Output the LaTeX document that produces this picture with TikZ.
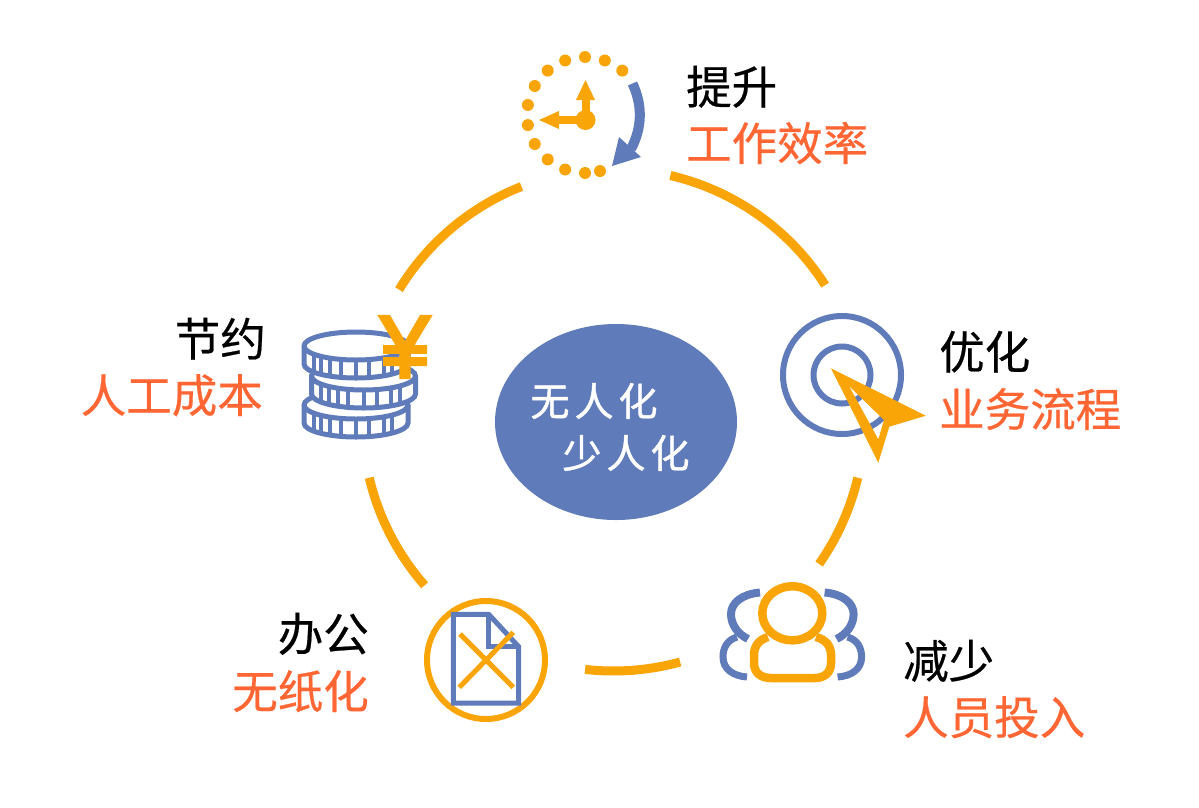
\documentclass[tikz,border=0pt]{standalone}
\usepackage{fontspec}
\setmainfont{Noto Sans CJK SC}[FakeBold=0.5]
\newfontfamily\hubfont{Noto Sans CJK SC}[FakeBold=1.2]
\newfontfamily\yenfont{Liberation Sans}[FakeBold=4]
\usetikzlibrary{positioning,shapes.geometric}
\definecolor{ringorange}{HTML}{FAA507}
\definecolor{iconblue}{HTML}{5F7BBA}
\definecolor{subred}{HTML}{FF6633}
\tikzset{
headline/.style={
  inner sep=0pt,
  text height=38pt,
  text depth=6pt,
  font=\fontsize{45.5}{45.5}\selectfont},
subline/.style={
  headline,
  text=subred},
hubtext/.style={
  inner sep=0pt,
  text=white,
  font=\hubfont\fontsize{39}{39}\selectfont},
ring/.style={draw=ringorange, line width=9pt},
blueline/.style={draw=iconblue, line width=6pt},
orangeline/.style={draw=ringorange, line width=6pt}
}
\begin{document}
\begin{tikzpicture}[x=1pt,y=1pt]
    \useasboundingbox (0,0) rectangle (1199,-807);
    \coordinate (ringc) at (613.5,-420);
    \foreach \a/\b in {76.9/32.5, -13.3/-35, -74.6/-96.5, 221.2/193.3, 148.7/111.5}
      \draw [ring] (ringc) ++(\a:251) arc [start angle=\a, end angle=\b, radius=251];
    \node [ellipse, fill=iconblue, minimum width=242, minimum height=196, inner sep=0pt] (hub) at (616,-422) {};
    \node [hubtext] (hub1) at (594,-401) {无\hspace{5pt}人\hspace{5pt}化};
    \node [hubtext] (hub2) at (626,-453) {少\hspace{5pt}人\hspace{5pt}化};
    % labels
    \node [headline, anchor=west] (lift) at (686,-88) {提升};
    \node [subline, below=12pt of lift.south west, anchor=north west] (lift2) {工作效率};
    \node [headline, anchor=west] (optim) at (939,-353) {优化};
    \node [subline, below=13pt of optim.south west, anchor=north west] (optim2) {业务流程};
    \node [headline, anchor=west] (reduce) at (903,-662) {减少};
    \node [subline, below=12pt of reduce.south west, anchor=north west] (reduce2) {人员投入};
    \node [headline, anchor=east] (office) at (369,-635) {办公};
    \node [subline, below=13pt of office.south east, anchor=north east] (office2) {无纸化};
    \node [headline, anchor=east] (save) at (266,-340) {节约};
    \node [subline, below=12pt of save.south east, anchor=north east, xshift=-3pt] (save2) {人工成本};
    % clock
    \foreach \t in {90,70,50,110,130,150,170,190,210,230,250,270,285}
      \fill [ringorange] (585,-115) ++(\t:58) circle (6);
    \fill [ringorange] (585.5,-120) circle (10);
    \fill [ringorange] (581.5,-120) rectangle (589.5,-100);
    \fill [ringorange] (576,-100) -- (585.5,-80) -- (595,-100) -- cycle;
    \fill [ringorange] (585,-116) rectangle (559,-124);
    \fill [ringorange] (559,-111) -- (539,-120) -- (559,-129) -- cycle;
    \draw [iconblue, line width=10pt] (632.5,-83.5) .. controls (642,-104) and (643,-126) .. (631,-149);
    \fill [iconblue] (619,-137) -- (641,-157) -- (612,-166) -- cycle;
    % target
    \draw [blueline] (842,-375) circle (59);
    \draw [blueline] (842,-375) circle (28.5);
    \fill [ringorange, even odd rule] (831,-368.3) -- (925.7,-415.7) -- (889.3,-426.7) -- (878.3,-462.7) -- cycle
      (849,-386) -- (884,-420) -- (878.3,-439.3) -- cycle;
    % people
    \draw [iconblue, line width=8pt] (760,-592.5) .. controls (742,-594) and (731,-603) .. (731,-614) .. controls (731,-625) and (738,-634) .. (748,-639);
    \draw [iconblue, line width=7pt] (737,-637) .. controls (727,-640) and (723,-648) .. (723,-657) .. controls (723,-669) and (733,-676) .. (747,-677);
    \draw [iconblue, line width=8pt] (824.6,-592.5) .. controls (842.6,-594) and (853.6,-603) .. (853.6,-614) .. controls (853.6,-625) and (846.6,-634) .. (836.6,-639);
    \draw [iconblue, line width=7pt] (847.6,-637) .. controls (857.6,-640) and (861.6,-648) .. (861.6,-657) .. controls (861.6,-669) and (851.6,-676) .. (837.6,-677);
    \draw [ringorange, line width=8.5pt] (792.3,-613.3) ellipse [x radius=30, y radius=27];
    \draw [ringorange, line width=8.5pt] (768,-637) .. controls (758,-640) and (754,-647) .. (754,-655) -- (754,-663) .. controls (754,-672) and (760,-678) .. (771,-678) -- (815,-678) .. controls (825,-678) and (831,-672) .. (831,-663) -- (831,-655) .. controls (831,-647) and (827,-640) .. (816,-637);
    % paper
    \draw [orangeline] (486,-660) circle (59);
    \draw [iconblue, line width=5pt] (488.7,-614.3) -- (453.3,-614.3) -- (453.3,-703) -- (518.7,-703) -- (518.7,-646.7) -- cycle;
    \draw [iconblue, line width=5pt] (488.7,-614.3) -- (488.7,-646.7) -- (518.7,-646.7);
    \draw [ringorange, line width=5pt] (460,-634) -- (513.3,-687.3) (459.3,-687.3) -- (513.3,-632.3);
    % coins
    \foreach \cx/\cy in {356/-405, 363.5/-376, 356/-346} {
      \filldraw [fill=white, draw=iconblue, line width=5pt] (\cx-52,\cy) -- (\cx-52,\cy-18) arc [start angle=180, end angle=360, x radius=52, y radius=14] -- (\cx+52,\cy) arc [start angle=0, end angle=180, x radius=52, y radius=14] -- cycle;
      \draw [iconblue, line width=5pt] (\cx-52,\cy) arc [start angle=180, end angle=360, x radius=52, y radius=14];
      \foreach \t in {216,228,240,253,270,285,302,314}
        \draw [iconblue, line width=4pt] ({\cx+52*cos(\t)},{\cy+14*sin(\t)}) -- ++(0,-18);
    }
    \node [inner sep=0pt, text=ringorange, font=\yenfont\fontsize{88}{88}\selectfont] (yen) at (405,-347) {¥};
\end{tikzpicture}
\end{document}
